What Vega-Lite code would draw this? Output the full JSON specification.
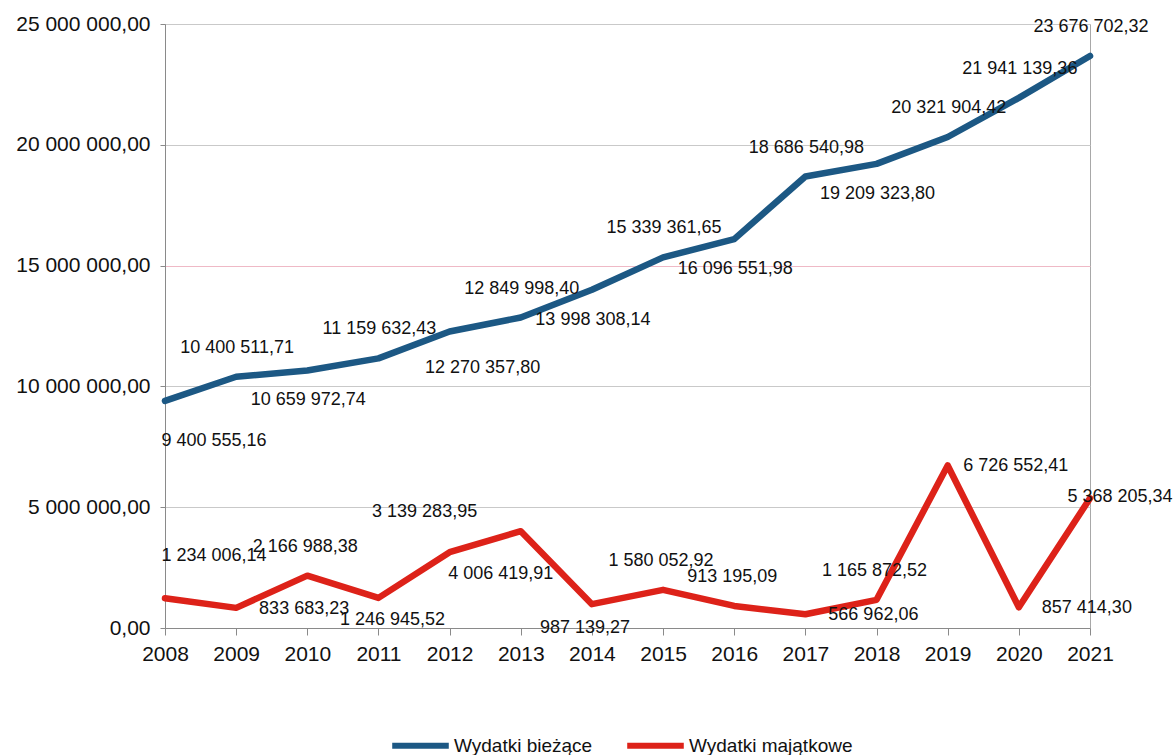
{
  "$schema": "https://vega.github.io/schema/vega-lite/v6.json",
  "autosize": {"type": "none"},
  "width": 925,
  "height": 604,
  "padding": {"left": 165, "top": 24, "right": 86, "bottom": 127},
  "background": "white",
  "config": {
    "locale": {"number": {"decimal": ",", "thousands": " ", "grouping": [3], "currency": ["", " zł"]}},
    "font": "Liberation Sans",
    "view": {"stroke": "#a8a8a8", "strokeWidth": 1},
    "axis": {"labelFont": "Liberation Sans", "labelColor": "#111111", "domainColor": "#8a8a8a", "tickColor": "#8a8a8a", "title": null}
  },
  "data": {
    "values": [
      {"year": 2008, "series": "Wydatki bieżące", "value": 9400555.16},
      {"year": 2009, "series": "Wydatki bieżące", "value": 10400511.71},
      {"year": 2010, "series": "Wydatki bieżące", "value": 10659972.74},
      {"year": 2011, "series": "Wydatki bieżące", "value": 11159632.43},
      {"year": 2012, "series": "Wydatki bieżące", "value": 12270357.80},
      {"year": 2013, "series": "Wydatki bieżące", "value": 12849998.40},
      {"year": 2014, "series": "Wydatki bieżące", "value": 13998308.14},
      {"year": 2015, "series": "Wydatki bieżące", "value": 15339361.65},
      {"year": 2016, "series": "Wydatki bieżące", "value": 16096551.98},
      {"year": 2017, "series": "Wydatki bieżące", "value": 18686540.98},
      {"year": 2018, "series": "Wydatki bieżące", "value": 19209323.80},
      {"year": 2019, "series": "Wydatki bieżące", "value": 20321904.42},
      {"year": 2020, "series": "Wydatki bieżące", "value": 21941139.36},
      {"year": 2021, "series": "Wydatki bieżące", "value": 23676702.32},
      {"year": 2008, "series": "Wydatki majątkowe", "value": 1234006.14},
      {"year": 2009, "series": "Wydatki majątkowe", "value": 833683.23},
      {"year": 2010, "series": "Wydatki majątkowe", "value": 2166988.38},
      {"year": 2011, "series": "Wydatki majątkowe", "value": 1246945.52},
      {"year": 2012, "series": "Wydatki majątkowe", "value": 3139283.95},
      {"year": 2013, "series": "Wydatki majątkowe", "value": 4006419.91},
      {"year": 2014, "series": "Wydatki majątkowe", "value": 987139.27},
      {"year": 2015, "series": "Wydatki majątkowe", "value": 1580052.92},
      {"year": 2016, "series": "Wydatki majątkowe", "value": 913195.09},
      {"year": 2017, "series": "Wydatki majątkowe", "value": 566962.06},
      {"year": 2018, "series": "Wydatki majątkowe", "value": 1165872.52},
      {"year": 2019, "series": "Wydatki majątkowe", "value": 6726552.41},
      {"year": 2020, "series": "Wydatki majątkowe", "value": 857414.30},
      {"year": 2021, "series": "Wydatki majątkowe", "value": 5368205.34}
    ]
  },
  "encoding": {
    "x": {
      "field": "year", "type": "quantitative",
      "scale": {"domain": [2008, 2021], "nice": false, "zero": false},
      "axis": {"values": [2008, 2009, 2010, 2011, 2012, 2013, 2014, 2015, 2016, 2017, 2018, 2019, 2020, 2021], "format": "d", "grid": false, "labelFontSize": 21, "tickSize": 7, "labelPadding": 8, "labelFlush": false, "labelOverlap": false}
    },
    "y": {
      "field": "value", "type": "quantitative",
      "scale": {"domain": [0, 25000000], "nice": false},
      "axis": {"values": [0, 5000000, 10000000, 15000000, 20000000, 25000000], "format": ",.2f", "labelFontSize": 21, "tickSize": 5, "labelPadding": 10,
        "grid": true, "gridColor": {"condition": {"test": "datum.value == 15000000", "value": "#efb9c6"}, "value": "#c9c9c9"}, "gridWidth": 1.2}
    }
  },
  "layer": [
    {
      "mark": {"type": "line", "strokeWidth": 6.5, "strokeJoin": "round", "strokeCap": "round"},
      "encoding": {
        "color": {
          "field": "series", "type": "nominal",
          "scale": {"domain": ["Wydatki bieżące", "Wydatki majątkowe"], "range": ["#1c5884", "#dd2219"]},
          "legend": {"title": null, "orient": "none", "legendX": 224, "legendY": 690, "direction": "horizontal",
            "symbolType": "stroke", "symbolSize": 3200, "symbolStrokeWidth": 6, "labelFontSize": 19, "labelColor": "#111111",
            "labelOffset": 2, "columnPadding": 22, "labelLimit": 300}
        }
      }
    },
    {
      "transform": [{"filter": {"field": "series", "equal": "Wydatki bieżące"}}, {"filter": {"field": "year", "oneOf": [2009, 2011, 2013, 2015, 2017, 2019, 2020, 2021]}}],
      "mark": {"type": "text", "fontSize": 18, "color": "#111111", "align": "center", "baseline": "middle", "dy": -29, "dx": 1},
      "encoding": {"text": {"field": "value", "type": "quantitative", "format": ",.2f"}}
    },
    {
      "transform": [{"filter": {"field": "series", "equal": "Wydatki bieżące"}}, {"filter": {"field": "year", "oneOf": [2010, 2014, 2016, 2018]}}],
      "mark": {"type": "text", "fontSize": 18, "color": "#111111", "align": "center", "baseline": "middle", "dy": 30, "dx": 1},
      "encoding": {"text": {"field": "value", "type": "quantitative", "format": ",.2f"}}
    },
    {
      "transform": [{"filter": {"field": "series", "equal": "Wydatki bieżące"}}, {"filter": {"field": "year", "equal": 2008}}],
      "mark": {"type": "text", "fontSize": 18, "color": "#111111", "align": "center", "baseline": "middle", "dy": 40, "dx": 49},
      "encoding": {"text": {"field": "value", "type": "quantitative", "format": ",.2f"}}
    },
    {
      "transform": [{"filter": {"field": "series", "equal": "Wydatki bieżące"}}, {"filter": {"field": "year", "equal": 2012}}],
      "mark": {"type": "text", "fontSize": 18, "color": "#111111", "align": "center", "baseline": "middle", "dy": 36, "dx": 33},
      "encoding": {"text": {"field": "value", "type": "quantitative", "format": ",.2f"}}
    },
    {
      "transform": [{"filter": {"field": "series", "equal": "Wydatki majątkowe"}}, {"filter": {"field": "year", "oneOf": [2010, 2015, 2016, 2018]}}],
      "mark": {"type": "text", "fontSize": 18, "color": "#111111", "align": "center", "baseline": "middle", "dy": -29, "dx": -2},
      "encoding": {"text": {"field": "value", "type": "quantitative", "format": ",.2f"}}
    },
    {
      "transform": [{"filter": {"field": "series", "equal": "Wydatki majątkowe"}}, {"filter": {"field": "year", "oneOf": [2009, 2017, 2019, 2020]}}],
      "mark": {"type": "text", "fontSize": 18, "color": "#111111", "align": "center", "baseline": "middle", "dy": 1, "dx": 68},
      "encoding": {"text": {"field": "value", "type": "quantitative", "format": ",.2f"}}
    },
    {
      "transform": [{"filter": {"field": "series", "equal": "Wydatki majątkowe"}}, {"filter": {"field": "year", "equal": 2008}}],
      "mark": {"type": "text", "fontSize": 18, "color": "#111111", "align": "center", "baseline": "middle", "dy": -42, "dx": 49},
      "encoding": {"text": {"field": "value", "type": "quantitative", "format": ",.2f"}}
    },
    {
      "transform": [{"filter": {"field": "series", "equal": "Wydatki majątkowe"}}, {"filter": {"field": "year", "equal": 2011}}],
      "mark": {"type": "text", "fontSize": 18, "color": "#111111", "align": "center", "baseline": "middle", "dy": 22, "dx": 14},
      "encoding": {"text": {"field": "value", "type": "quantitative", "format": ",.2f"}}
    },
    {
      "transform": [{"filter": {"field": "series", "equal": "Wydatki majątkowe"}}, {"filter": {"field": "year", "equal": 2012}}],
      "mark": {"type": "text", "fontSize": 18, "color": "#111111", "align": "center", "baseline": "middle", "dy": -40, "dx": -25},
      "encoding": {"text": {"field": "value", "type": "quantitative", "format": ",.2f"}}
    },
    {
      "transform": [{"filter": {"field": "series", "equal": "Wydatki majątkowe"}}, {"filter": {"field": "year", "equal": 2013}}],
      "mark": {"type": "text", "fontSize": 18, "color": "#111111", "align": "center", "baseline": "middle", "dy": 43, "dx": -20},
      "encoding": {"text": {"field": "value", "type": "quantitative", "format": ",.2f"}}
    },
    {
      "transform": [{"filter": {"field": "series", "equal": "Wydatki majątkowe"}}, {"filter": {"field": "year", "equal": 2014}}],
      "mark": {"type": "text", "fontSize": 18, "color": "#111111", "align": "center", "baseline": "middle", "dy": 24, "dx": -7},
      "encoding": {"text": {"field": "value", "type": "quantitative", "format": ",.2f"}}
    },
    {
      "transform": [{"filter": {"field": "series", "equal": "Wydatki majątkowe"}}, {"filter": {"field": "year", "equal": 2021}}],
      "mark": {"type": "text", "fontSize": 18, "color": "#111111", "align": "center", "baseline": "middle", "dy": -1, "dx": 30},
      "encoding": {"text": {"field": "value", "type": "quantitative", "format": ",.2f"}}
    }
  ]
}
